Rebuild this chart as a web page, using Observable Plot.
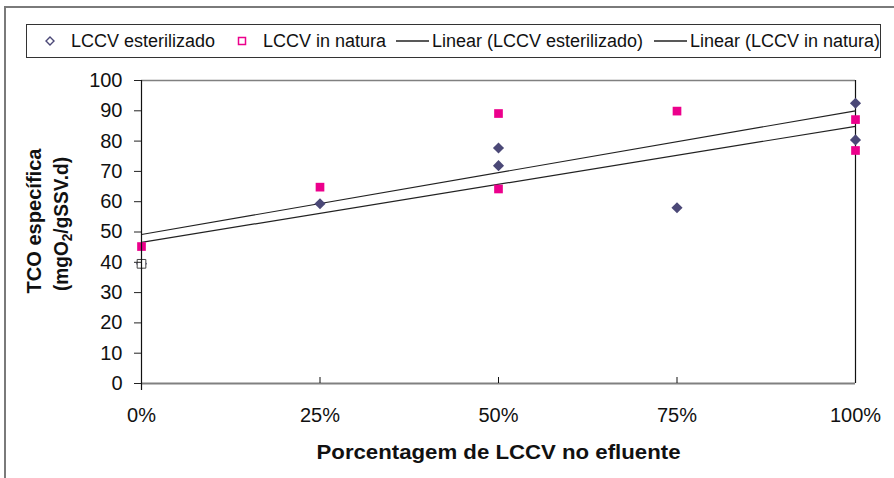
<!DOCTYPE html>
<html><head><meta charset="utf-8">
<script src="https://cdn.jsdelivr.net/npm/d3@7"></script>
<script src="https://cdn.jsdelivr.net/npm/@observablehq/plot@0.6"></script>
<style>
body{margin:0;background:#fff;font-family:"Liberation Sans",Arial,sans-serif;}
#wrap{position:relative;width:894px;height:478px;overflow:hidden;background:#fff;}
#frame{position:absolute;left:4px;top:6px;width:1000px;height:1000px;border-left:2px solid #7a7a7a;border-top:2px solid #7a7a7a;}
#legend{position:absolute;left:26px;top:24px;width:855px;height:34px;border:1px solid #333;box-sizing:border-box;font-size:18px;color:#111;background:#fff;}
.item{position:absolute;top:0;height:32px;line-height:32px;white-space:nowrap;}
.mk{position:absolute;top:11px;}
#chart{position:absolute;left:0;top:60px;}
</style></head>
<body>
<div id="wrap">
  <div id="frame"></div>
  <div id="legend"></div>
  <div id="chart"></div>
</div>
<script>
// ---- data ----
const xTicks = [0, 0.25, 0.5, 0.75, 1];
const yTicks = [0, 10, 20, 30, 40, 50, 60, 70, 80, 90, 100];
const seriesNames = ["LCCV esterilizado", "LCCV in natura", "Linear (LCCV esterilizado)", "Linear (LCCV in natura)"];
const esterilizadoX = [0, 0.25, 0.5, 0.5, 0.75, 1, 1];
const esterilizadoY = [39.5, 59.3, 77.7, 71.9, 58.0, 92.5, 80.4];
const naturaX = [0, 0, 0.25, 0.5, 0.5, 0.75, 1, 1];
const naturaY = [45.2, 39.5, 64.8, 89.1, 64.2, 89.9, 87.1, 76.9];
const xTitle = "Porcentagem de LCCV no efluente";
const yTitle1 = "TCO específica";
const yTitle2 = "(mgO2/gSSV.d)";

const estColor = "#4b4877";
const natColor = "#ec008c";

const est = esterilizadoX.map((x, i) => ({x, y: esterilizadoY[i]}));
const nat = naturaX.map((x, i) => ({x, y: naturaY[i], hidden: i === 1}));

// ---- legend ----
const legend = document.getElementById("legend");
const items = [
  {mk: `<svg class="mk" width="10" height="10" style="left:18px"><path d="M5 1 L9 5 L5 9 L1 5 Z" fill="none" stroke="${estColor}" stroke-width="1.4"/></svg>`, left: 44, text: seriesNames[0]},
  {mk: `<svg class="mk" width="10" height="10" style="left:210px"><rect x="1.5" y="1.5" width="7" height="7" fill="none" stroke="${natColor}" stroke-width="1.5"/></svg>`, left: 236, text: seriesNames[1]},
  {mk: `<svg class="mk" width="34" height="10" style="left:369px"><line x1="0" y1="5" x2="33" y2="5" stroke="#222" stroke-width="1.3"/></svg>`, left: 405, text: seriesNames[2]},
  {mk: `<svg class="mk" width="34" height="10" style="left:627px"><line x1="0" y1="5" x2="33" y2="5" stroke="#222" stroke-width="1.3"/></svg>`, left: 663, text: seriesNames[3]}
];
for (const it of items) {
  legend.insertAdjacentHTML("beforeend", it.mk);
  const s = document.createElement("span");
  s.className = "item";
  s.style.left = it.left + "px";
  s.textContent = it.text;
  legend.appendChild(s);
}

// ---- chart ----
const chart = Plot.plot({
  width: 894,
  height: 418,
  marginLeft: 141,
  marginRight: 39,
  marginTop: 20,
  marginBottom: 95,
  x: {domain: [0, 1]},
  y: {domain: [0, 100]},
  style: {fontFamily: "'Liberation Sans', Arial, sans-serif", fontSize: "19px", color: "#111", background: "transparent", overflow: "visible"},
  marks: [
    Plot.ruleY([100], {stroke: "#808080", strokeWidth: 1.5}),
    Plot.ruleX([1], {stroke: "#111", strokeWidth: 1.2}),
    Plot.linearRegressionY(est, {x: "x", y: "y", stroke: "#222", strokeWidth: 1.2, ci: 0}),
    Plot.linearRegressionY(nat, {x: "x", y: "y", stroke: "#222", strokeWidth: 1.2, ci: 0}),
    Plot.dot(est, {x: "x", y: "y", symbol: "diamond2", r: 5, fill: estColor}),
    Plot.dot(nat, {x: "x", y: "y", symbol: "square", r: 4.9, fill: d => d.hidden ? "white" : natColor, stroke: d => d.hidden ? "#444" : "none", strokeWidth: 1}),
    Plot.ruleY([0], {stroke: "#808080", strokeWidth: 2}),
    Plot.ruleX(xTicks, {insetTop: 297, stroke: "#111"}),
    Plot.ruleX([0], {insetBottom: -7, stroke: "#111", strokeWidth: 1.2}),
    Plot.axisY({ticks: yTicks, tickSize: 7, tickPadding: 12, label: null, stroke: "#222", fontSize: 20}),
    Plot.axisX({ticks: xTicks, tickFormat: d3.format(".0%"), tickSize: 0, tickPadding: 24, label: null, fontSize: 20}),
    Plot.text([xTitle], {frameAnchor: "bottom", lineAnchor: "middle", textAnchor: "middle", dy: 69, fontWeight: "bold", fontSize: 21, fill: "#111"}),
    Plot.text([yTitle1], {frameAnchor: "left", lineAnchor: "middle", textAnchor: "middle", dx: -107, dy: -11, rotate: -90, fontWeight: "bold", fontSize: 21, fill: "#111"}),
    Plot.text([yTitle2], {frameAnchor: "left", lineAnchor: "middle", textAnchor: "middle", dx: -80, dy: -8, rotate: -90, fontWeight: "bold", fontSize: 21, fill: "#111"})
  ]
});
document.getElementById("chart").appendChild(chart);

// text fitting and O2 subscript
const ns = "http://www.w3.org/2000/svg";
chart.querySelectorAll("text").forEach(t => {
  const s = t.textContent;
  if (s === yTitle2) {
    t.textContent = "";
    const a = document.createElementNS(ns, "tspan"); a.textContent = "(mgO";
    const b = document.createElementNS(ns, "tspan"); b.textContent = "2"; b.setAttribute("dy", "4"); b.setAttribute("font-size", "15");
    const c = document.createElementNS(ns, "tspan"); c.textContent = "/gSSV.d)"; c.setAttribute("dy", "-4");
    t.append(a, b, c);
    t.setAttribute("textLength", "134");
    t.setAttribute("lengthAdjust", "spacingAndGlyphs");
  } else if (s === yTitle1) {
    t.setAttribute("textLength", "145");
    t.setAttribute("lengthAdjust", "spacingAndGlyphs");
  } else if (s === xTitle) {
    t.setAttribute("textLength", "364");
    t.setAttribute("lengthAdjust", "spacingAndGlyphs");
  }
});
</script>
</body></html>
